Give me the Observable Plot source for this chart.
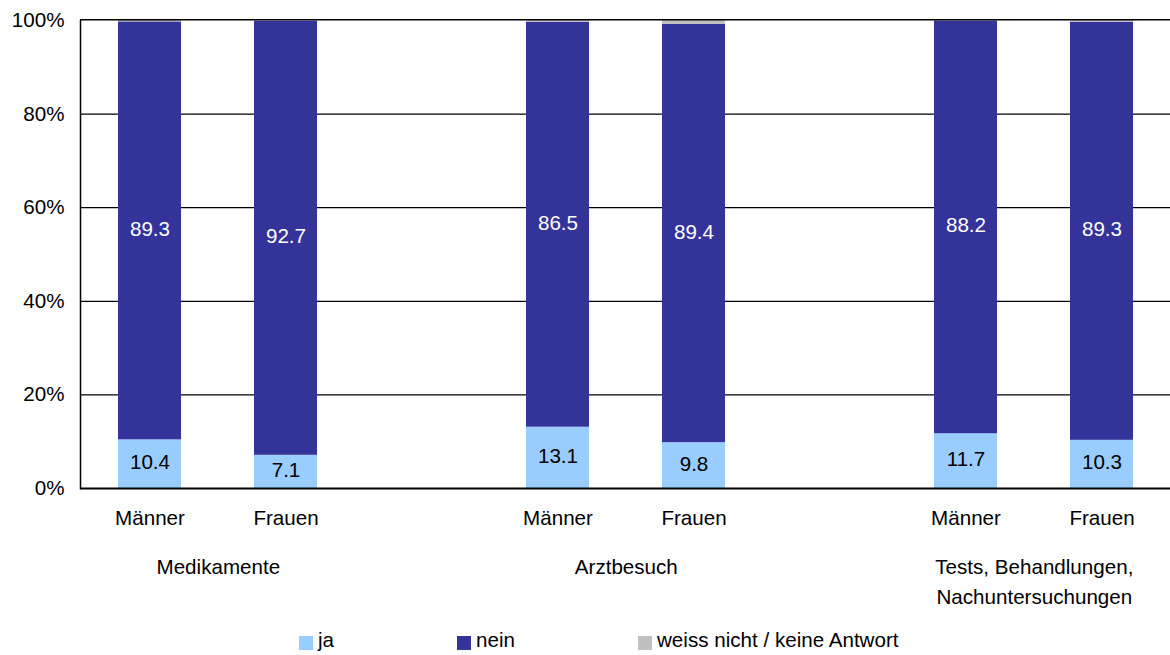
<!DOCTYPE html>
<html>
<head>
<meta charset="utf-8">
<script src="https://cdn.jsdelivr.net/npm/d3@7"></script>
<script src="https://cdn.jsdelivr.net/npm/@observablehq/plot@0.6"></script>
<style>
  html, body { margin: 0; padding: 0; background: #fff; }
  #wrap { position: relative; width: 1170px; height: 655px; overflow: hidden;
          font-family: "Liberation Sans", Arial, sans-serif; color: #000; }
  #chart svg { display: block; }
  .legend-item { position: absolute; top: 626px; display: flex; align-items: center;
                 font-size: 20.6px; line-height: 28px; white-space: nowrap; }
  .legend-item .swatch { width: 14px; height: 14px; margin-right: 5px; margin-top: 6px; }
</style>
</head>
<body>
<div id="wrap">
  <div id="chart"></div>
</div>
<script>
// Survey answers per topic and sex (percent)
const topics = ["Medikamente", "Arztbesuch", "Tests, Behandlungen,\nNachuntersuchungen"];
const sexes = ["Männer", "Frauen"];
const answers = ["ja", "nein", "weiss nicht / keine Antwort"];
const jaValues = [10.4, 7.1, 13.1, 9.8, 11.7, 10.3];
const neinValues = [89.3, 92.7, 86.5, 89.4, 88.2, 89.3];
const unknownValues = [0.3, 0.2, 0.4, 0.8, 0.1, 0.4];
const yTicks = [0, 20, 40, 60, 80, 100];
const answerColors = ["#99CCFF", "#333399", "#C0C0C0"];
const legendLeft = [299, 457, 638];

// One band per bar, with an empty spacer band between topics
const barSlots = [];
const slots = [];
topics.forEach((t, i) => {
  sexes.forEach(s => { barSlots.push(t + "|" + s); slots.push(t + "|" + s); });
  if (i < topics.length - 1) slots.push("spacer" + i);
});

const rows = [];
barSlots.forEach((slot, i) => {
  const vals = [jaValues[i], neinValues[i], unknownValues[i]];
  answers.forEach((a, j) => rows.push({slot, answer: a, value: vals[j]}));
});
const labelRows = rows.filter(d => d.answer !== answers[2]);

const xOptions = {type: "band", domain: slots, range: [79, 1172], paddingInner: 0.54, paddingOuter: 0.27};
const xScale = Plot.scale({x: xOptions});

const font = "'Liberation Sans', Arial, sans-serif";
const fs = 20.6;

const chart = Plot.plot({
  width: 1170,
  height: 618,
  marginTop: 20,
  marginLeft: 80,
  marginRight: 0,
  marginBottom: 130,
  style: {fontFamily: font, fontSize: fs + "px", color: "#000", background: "transparent", overflow: "visible"},
  x: {...xOptions, axis: null},
  y: {domain: [0, 100], axis: null},
  color: {domain: answers, range: answerColors},
  marks: [
    Plot.ruleY(yTicks.filter(t => t > 0 && t < 100), {stroke: "#000", strokeWidth: 1.2}),
    Plot.barY(rows, Plot.stackY({x: "slot", y: "value", fill: "answer", z: "answer"})),
    Plot.text(labelRows, Plot.stackY({
      x: "slot", y: "value", z: "answer",
      text: d => d.value.toFixed(1),
      fill: d => d.answer === answers[0] ? "#000" : "#fff",
      fontSize: fs, dy: -1.5
    })),
    Plot.ruleY([100], {stroke: "#000", strokeWidth: 1.6, dy: -0.8}),
    Plot.ruleY([0], {stroke: "#000", strokeWidth: 2}),
    Plot.frame({anchor: "left", stroke: "#000", strokeWidth: 1.5}),
    Plot.axisY(yTicks, {tickSize: 0, tickPadding: 16, tickFormat: d => d + "%", fontSize: fs, label: null}),
    Plot.text(barSlots, {
      x: d => d, text: d => d.split("|")[1],
      frameAnchor: "bottom", lineAnchor: "top", dy: 22, fontSize: fs
    }),
    Plot.text(topics, {
      x: d => d + "|" + sexes[0], text: d => d,
      frameAnchor: "bottom", lineAnchor: "top", dy: 64, dx: xScale.step / 2,
      lineHeight: 1.45, fontSize: fs
    })
  ]
});
document.getElementById("chart").appendChild(chart);

// Legend below the chart
const wrap = document.getElementById("wrap");
answers.forEach((a, i) => {
  const item = document.createElement("div");
  item.className = "legend-item";
  item.style.left = legendLeft[i] + "px";
  const sw = document.createElement("span");
  sw.className = "swatch";
  sw.style.background = answerColors[i];
  const label = document.createElement("span");
  label.textContent = a;
  item.appendChild(sw);
  item.appendChild(label);
  wrap.appendChild(item);
});
</script>
</body>
</html>
